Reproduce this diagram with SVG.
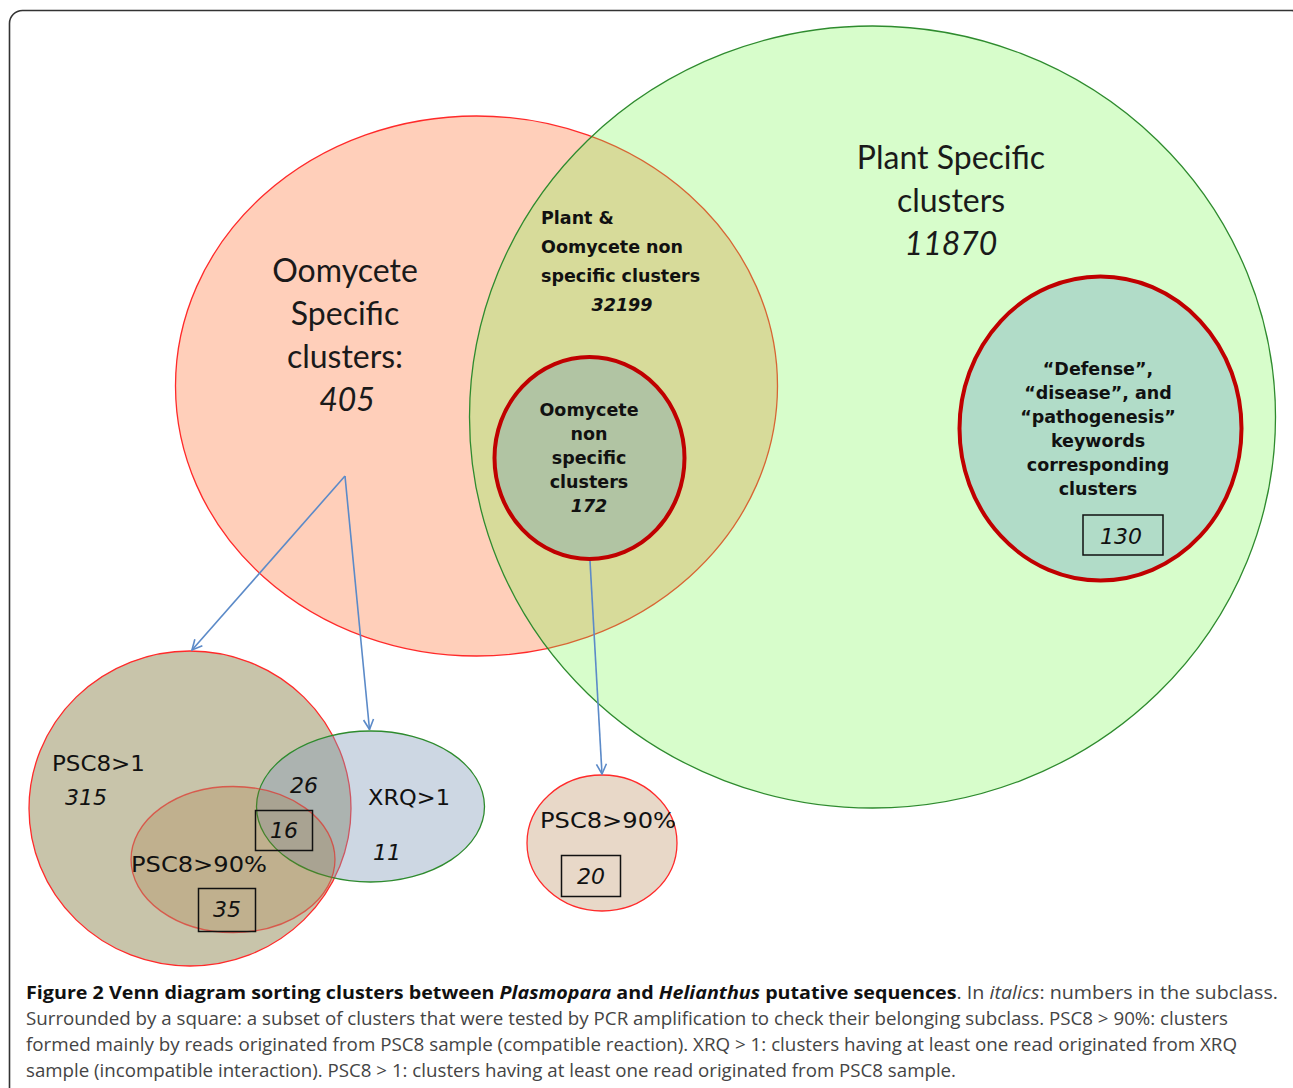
<svg xmlns="http://www.w3.org/2000/svg" width="1293" height="1088" viewBox="0 0 1293 1088">
<defs>
<style>
.cal{font-family:Lato,"Open Sans","Liberation Sans",sans-serif;font-size:32px;fill:#1a1a1a;text-anchor:middle}
.tb{font-family:"DejaVu Sans","Liberation Sans",sans-serif;font-weight:bold;font-size:17.5px;fill:#111}
.tah{font-family:"DejaVu Sans","Liberation Sans",sans-serif;font-size:22px;fill:#111}
.it{font-style:italic}
.box{fill:none;stroke:#111;stroke-width:1.5}
.arrow{fill:none;stroke:#5b8ac8;stroke-width:1.6}
.cap{font-family:"Open Sans","Liberation Sans",sans-serif;font-size:18px;fill:#444}
.capb{font-weight:bold;fill:#111}
</style>
<marker id="ah" viewBox="0 0 12 12" refX="11" refY="6" markerWidth="12" markerHeight="12" markerUnits="userSpaceOnUse" orient="auto">
<path d="M1,1 L11,6 L1,11" fill="none" stroke="#5b8ac8" stroke-width="1.6"/>
</marker>
</defs>
<rect x="9.5" y="10.5" width="1295" height="1100" rx="13" fill="#fff" stroke="#333" stroke-width="1.6"/>

<g id="oomycete">
<ellipse cx="476.5" cy="386" rx="301" ry="270" fill="#FFCFBA" stroke="#FF2A2A" stroke-width="1.3"/>
</g>
<g id="plant">
<ellipse cx="872.5" cy="417" rx="403" ry="391" fill="#75F84C" fill-opacity="0.29" stroke="#2E8B2E" stroke-width="1.3"/>
</g>
<g id="oomycete-label">
<text class="cal" x="345" y="282">Oomycete</text>
<text class="cal" x="345" y="325">Specific</text>
<text class="cal" x="345" y="368">clusters:</text>
<text class="cal it" x="347" y="411">405</text>
</g>
<g id="plant-label">
<text class="cal" x="951" y="169">Plant Specific</text>
<text class="cal" x="951" y="212">clusters</text>
<text class="cal it" x="951" y="255">11870</text>
</g>
<g id="overlap-label">
<text class="tb" x="541" y="224">Plant &amp;</text>
<text class="tb" x="541" y="253">Oomycete non</text>
<text class="tb" x="541" y="282">specific clusters</text>
<text class="tb it" x="622" y="311" text-anchor="middle">32199</text>
</g>
<g id="oomycete-nonspecific">
<ellipse cx="589.5" cy="458" rx="95" ry="101" fill="#B1C4A3" stroke="#C00000" stroke-width="4"/>
<text class="tb" x="589" y="416" text-anchor="middle">Oomycete</text>
<text class="tb" x="589" y="440" text-anchor="middle">non</text>
<text class="tb" x="589" y="464" text-anchor="middle">specific</text>
<text class="tb" x="589" y="488" text-anchor="middle">clusters</text>
<text class="tb it" x="589" y="512" text-anchor="middle">172</text>
</g>
<g id="defense">
<ellipse cx="1100.5" cy="428.5" rx="141" ry="152" fill="#B1DCC8" stroke="#C00000" stroke-width="4"/>
<text class="tb" x="1098" y="375" text-anchor="middle">“Defense”,</text>
<text class="tb" x="1098" y="399" text-anchor="middle">“disease”, and</text>
<text class="tb" x="1098" y="423" text-anchor="middle">“pathogenesis”</text>
<text class="tb" x="1098" y="447" text-anchor="middle">keywords</text>
<text class="tb" x="1098" y="471" text-anchor="middle">corresponding</text>
<text class="tb" x="1098" y="495" text-anchor="middle">clusters</text>
<rect class="box" x="1083" y="515" width="80" height="40"/>
<text class="tah it" x="1121" y="544" text-anchor="middle">130</text>
</g>

<g id="psc8-gt1">
<ellipse cx="190" cy="808.5" rx="161" ry="157.5" fill="#C8C4AA" stroke="#FF2A2A" stroke-width="1.3"/>
<text class="tah" x="52" y="771" textLength="93" lengthAdjust="spacingAndGlyphs">PSC8&gt;1</text>
<text class="tah it" x="65" y="805">315</text>
</g>
<g id="xrq">
<ellipse cx="370.5" cy="806.5" rx="114" ry="75.5" fill="#829BB9" fill-opacity="0.4" stroke="#2E8B2E" stroke-width="1.3"/>
<text class="tah" x="368" y="805" textLength="82" lengthAdjust="spacingAndGlyphs">XRQ&gt;1</text>
<text class="tah it" x="373" y="860">11</text>
<text class="tah it" x="290" y="793">26</text>
</g>
<g id="psc8-90-a">
<ellipse cx="233" cy="859.5" rx="102" ry="73" fill="#A0641E" fill-opacity="0.2" stroke="#E0302A" stroke-opacity="0.7" stroke-width="1.3"/>
<text class="tah" x="131" y="872" textLength="136" lengthAdjust="spacingAndGlyphs">PSC8&gt;90%</text>
<rect class="box" x="198.5" y="888.5" width="57" height="43"/>
<text class="tah it" x="227" y="917" text-anchor="middle">35</text>
<rect class="box" x="255.5" y="810.5" width="57" height="40"/>
<text class="tah it" x="284" y="838" text-anchor="middle">16</text>
</g>
<g id="psc8-90-b">
<ellipse cx="602" cy="843" rx="75" ry="68" fill="#E8D8C8" stroke="#FF2A2A" stroke-width="1.3"/>
<text class="tah" x="540" y="828" textLength="136" lengthAdjust="spacingAndGlyphs">PSC8&gt;90%</text>
<rect class="box" x="561.5" y="855.5" width="59" height="41"/>
<text class="tah it" x="591" y="884" text-anchor="middle">20</text>
</g>

<g id="connectors">
<line class="arrow" x1="345" y1="476" x2="192" y2="650" marker-end="url(#ah)"/>
<line class="arrow" x1="345" y1="476" x2="369.5" y2="729.5" marker-end="url(#ah)"/>
<line class="arrow" x1="590" y1="561" x2="602" y2="774" marker-end="url(#ah)"/>
</g>

<g id="caption">
<text class="cap" x="26" y="999" textLength="1252" lengthAdjust="spacingAndGlyphs"><tspan class="capb">Figure 2 Venn diagram sorting clusters between </tspan><tspan class="capb it">Plasmopara</tspan><tspan class="capb"> and </tspan><tspan class="capb it">Helianthus</tspan><tspan class="capb"> putative sequences</tspan>. In <tspan class="it">italics</tspan>: numbers in the subclass.</text>
<text class="cap" x="26" y="1025" textLength="1202" lengthAdjust="spacingAndGlyphs">Surrounded by a square: a subset of clusters that were tested by PCR amplification to check their belonging subclass. PSC8 &gt; 90%: clusters</text>
<text class="cap" x="26" y="1051" textLength="1211" lengthAdjust="spacingAndGlyphs">formed mainly by reads originated from PSC8 sample (compatible reaction). XRQ &gt; 1: clusters having at least one read originated from XRQ</text>
<text class="cap" x="26" y="1077" textLength="930" lengthAdjust="spacingAndGlyphs">sample (incompatible interaction). PSC8 &gt; 1: clusters having at least one read originated from PSC8 sample.</text>
</g>
</svg>
